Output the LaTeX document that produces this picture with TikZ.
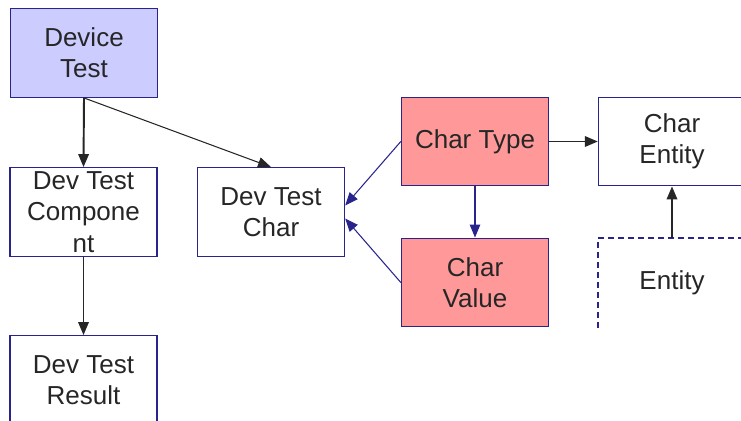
\documentclass[tikz,border=0pt]{standalone}
\usepackage{fontspec}
\setmainfont{Liberation Sans}
\usetikzlibrary{arrows.meta}
\definecolor{boxline}{RGB}{40,36,140}
\definecolor{lavender}{RGB}{204,204,255}
\definecolor{salmon}{RGB}{255,153,153}

\begin{document}
\begin{tikzpicture}[x=0.02cm,y=-0.02cm,
    every node/.style={font=\fontsize{14.8}{17.8}\selectfont, text=black!85},
    ent/.style={draw=boxline, line width=0.8pt, align=center, inner sep=0pt,
      minimum width=2.94cm, minimum height=1.77cm},
    link/.style={-{Triangle[length=2.6mm,width=2.1mm]}, line width=1.1pt, black!85},
    thinlink/.style={-{Triangle[length=2.6mm,width=2.1mm]}, line width=0.6pt, black!85},
    navylink/.style={-{Triangle[length=2.6mm,width=2.1mm]}, line width=0.6pt, boxline}]
    \useasboundingbox (0,0) rectangle (741,421);
    \clip (0,0) rectangle (741,421);
    % device test side
    \node[ent, fill=lavender] (devtest) at (84,53) {Device\\Test};
    \node[ent] (dtcomp) at (83.5,212) {Dev Test\\Compone\\nt};
    \node[ent] (dtresult) at (83.5,380) {Dev Test\\Result};
    \node[ent] (dtchar) at (271,212) {Dev Test\\Char};
    % characteristics
    \node[ent, fill=salmon] (chartype) at (475,141.5) {Char Type};
    \node[ent, fill=salmon] (charval) at (475,282.5) {Char\\Value};
    \node[ent] (charent) at (672,141.5) {Char\\Entity};
    \node[ent, draw=none] (entity) at (672,283) {Entity};
    \draw[boxline, line width=0.8pt, dash pattern=on 3.4pt off 2.3pt]
      (entity.south west) -- (entity.north west) -- (entity.north east);
    % links
    \draw[link] (devtest.south) -- (dtcomp.north);
    \draw[thinlink] (devtest.south) -- (dtchar.north);
    \draw[link] (dtcomp.south) -- (dtresult.north);
    \draw[navylink] (chartype.west) -- ([yshift=0.13cm]dtchar.east);
    \draw[navylink] (charval.west) -- ([yshift=-0.13cm]dtchar.east);
    \draw[navylink] (chartype.south) -- (charval.north);
    \draw[link] (chartype.east) -- (charent.west);
    \draw[link] (entity.north) -- (charent.south);
\end{tikzpicture}
\end{document}
